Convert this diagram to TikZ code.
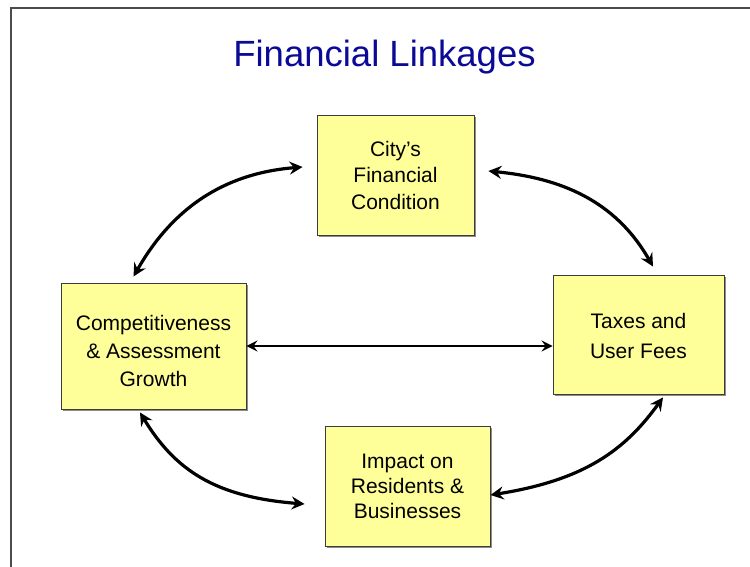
\documentclass[tikz,border=0pt]{standalone}
\usepackage{fontspec}
\setmainfont{Liberation Sans}
\usetikzlibrary{arrows.meta,shadows}
\definecolor{titleblue}{RGB}{10,10,150}
\definecolor{boxfill}{RGB}{255,255,153}
\definecolor{boxline}{RGB}{60,60,60}
\tikzset{
  box/.style={draw=boxline, line width=0.9pt, fill=boxfill, align=center,
    inner sep=0pt, text=black,
    drop shadow={shadow xshift=2pt, shadow yshift=-2pt, fill=black!45, opacity=1}},
  link/.style={line width=3.2pt, {Stealth[length=13pt,width=13pt,inset=4.5pt]}-{Stealth[length=13pt,width=13pt,inset=4.5pt]}},
  flat/.style={line width=2.2pt, {Stealth[length=11pt,width=11pt,inset=4pt]}-{Stealth[length=11pt,width=11pt,inset=4pt]}},
  frame/.style={draw=black!70, line width=1.8pt}
}
\begin{document}
\begin{tikzpicture}[x=1pt,y=-1pt]
\useasboundingbox (0,0) rectangle (750,566);
\draw[frame] (11,570) -- (11,8) -- (755,8);
\node[text=titleblue, font=\fontsize{36.5}{40}\selectfont] (title) at (384.5,57) {Financial Linkages};
\node[box, minimum width=157pt, minimum height=120pt, font=\fontsize{21}{26.5}\selectfont] (city) at (395.5,175) {City’s\\Financial\\Condition};
\node[box, minimum width=185pt, minimum height=126pt, font=\fontsize{21}{28}\selectfont] (comp) at (153.5,346) {\rule{0pt}{26pt}Competitiveness\\\& Assessment\\Growth};
\node[box, minimum width=171pt, minimum height=119pt, font=\fontsize{21}{30}\selectfont] (tax) at (638.5,334.5) {\rule{0pt}{19pt}Taxes and\\User Fees};
\node[box, minimum width=165pt, minimum height=120pt, font=\fontsize{21}{25}\selectfont] (imp) at (407.5,486) {Impact on\\Residents \&\\Businesses};
\draw[link] ([shift={(-14,-8)}]city.west) .. controls (240,172) and (180,195) .. ([shift={(-20,-6)}]comp.north);
\draw[link] ([shift={(14,-4)}]city.east) .. controls (560,178) and (615,200) .. ([shift={(14.5,-8)}]tax.north);
\draw[link] ([shift={(-13.5,3)}]comp.south) .. controls (175,470) and (215,497) .. ([shift={(-20,18)}]imp.west);
\draw[link] ([shift={(24.5,3)}]tax.south) .. controls (625,450) and (585,480) .. ([shift={(0,9)}]imp.east);
\draw[flat] (comp.east) -- (comp.east -| tax.west);
\end{tikzpicture}
\end{document}
